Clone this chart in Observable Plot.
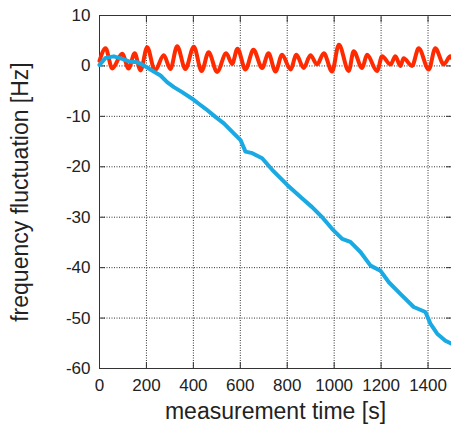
<!DOCTYPE html>
<html>
<head>
<meta charset="utf-8">
<script src="https://cdn.jsdelivr.net/npm/d3@7"></script>
<script src="https://cdn.jsdelivr.net/npm/@observablehq/plot@0.6"></script>
<style>
  html, body { margin: 0; padding: 0; background: #fff; }
  #chart svg { display: block; overflow: visible; }
</style>
</head>
<body>
<div id="chart"></div>
<script>
// ---- data ----
const xLabel = "measurement time [s]";
const yLabel = "frequency fluctuation [Hz]";
const xTicks = [0, 200, 400, 600, 800, 1000, 1200, 1400];
const yTicks = [-60, -50, -40, -30, -20, -10, 0, 10];
const xDomain = [0, 1500];
const yDomain = [-60, 10];

// red series (oscillating) : time, value
const redTime = [0, 26, 54, 97, 124, 150, 175, 203, 236, 274, 302, 331, 366, 402, 435, 465, 501, 540, 565, 588, 622, 656, 693, 720, 750, 778, 814, 839, 870, 899, 927, 956, 991, 1020, 1062, 1083, 1119, 1140, 1183, 1204, 1240, 1261, 1282, 1296, 1332, 1360, 1403, 1431, 1467, 1495, 1500];
const redValue = [1.0, 3.5, -0.5, 2.4, -0.5, 2.5, -0.9, 3.7, -0.9, 2.1, -0.6, 3.9, -0.6, 3.8, -1.0, 2.7, -1.2, 2.5, 0.4, 3.4, -0.7, 3.2, -0.4, 2.5, -1.1, 2.2, -0.7, 2.2, -0.4, 2.1, 0.3, 2.5, -1.1, 4.2, -1.0, 2.9, -0.4, 2.2, -1.0, 1.9, 0.3, 1.9, 0.0, 1.5, 0.0, 3.5, -0.7, 3.5, 0.3, 1.9, 1.6];

// blue series (drifting) : time, value
const blueTime = [0, 26, 61, 97, 125, 160, 189, 224, 260, 288, 317, 352, 395, 423, 452, 494, 530, 551, 601, 622, 651, 693, 736, 800, 864, 906, 949, 991, 1034, 1069, 1112, 1155, 1197, 1233, 1282, 1339, 1389, 1410, 1439, 1474, 1500];
const blueValue = [0.2, 1.6, 1.9, 1.4, 0.9, 0.75, 0.1, -0.9, -1.9, -3.2, -4.2, -5.2, -6.5, -7.5, -8.5, -10.1, -11.4, -12.4, -14.7, -17.0, -17.3, -18.3, -20.6, -23.6, -26.3, -28.0, -30.0, -32.3, -34.3, -34.9, -36.9, -39.6, -40.6, -42.9, -45.2, -47.8, -48.8, -51.1, -53.1, -54.5, -55.1];

const red = redTime.map((t, i) => ({t, v: redValue[i]}));
const blue = blueTime.map((t, i) => ({t, v: blueValue[i]}));

const font = "'Liberation Sans', Arial, Helvetica, sans-serif";
const gridStyle = {stroke: "#333", strokeOpacity: 1, strokeDasharray: "1,1.5", strokeWidth: 1};
const fmt = d => String(d);

const chart = Plot.plot({
  width: 451,
  height: 434,
  marginLeft: 99,
  marginRight: 0,
  marginTop: 15,
  marginBottom: 66,
  style: {fontFamily: font, color: "#222", background: "#fff"},
  x: {domain: xDomain, label: null},
  y: {domain: yDomain, label: null},
  marks: [
    Plot.gridX(xTicks, gridStyle),
    Plot.gridY(yTicks, gridStyle),
    Plot.axisX(xTicks, {anchor: "bottom", tickSize: -6, tickPadding: 16, fontSize: 17, label: null, stroke: "#333", tickFormat: fmt}),
    Plot.axisX(xTicks, {anchor: "top", tickSize: -6, tickFormat: () => "", label: null, stroke: "#333"}),
    Plot.axisY(yTicks, {anchor: "left", tickSize: -6, tickPadding: 15, fontSize: 17, label: null, stroke: "#333", tickFormat: fmt}),
    Plot.axisY(yTicks, {anchor: "right", tickSize: -6, tickFormat: () => "", label: null, stroke: "#333"}),
    Plot.ruleX([xDomain[0]], {stroke: "#333"}),
    Plot.ruleY(yDomain, {stroke: "#333"}),
    Plot.line(red, {x: "t", y: "v", stroke: "#ff2a00", strokeWidth: 4, curve: "monotone-x"}),
    Plot.line(blue, {x: "t", y: "v", stroke: "#19a9e3", strokeWidth: 4, curve: "linear"}),
    Plot.text([xLabel], {frameAnchor: "bottom", dy: 50, fontSize: 23, fill: "#222", textAnchor: "middle"}),
    Plot.text([yLabel], {frameAnchor: "left", dx: -79, rotate: -90, fontSize: 23, fill: "#222", textAnchor: "middle"})
  ]
});
document.getElementById("chart").appendChild(chart);
</script>
</body>
</html>
